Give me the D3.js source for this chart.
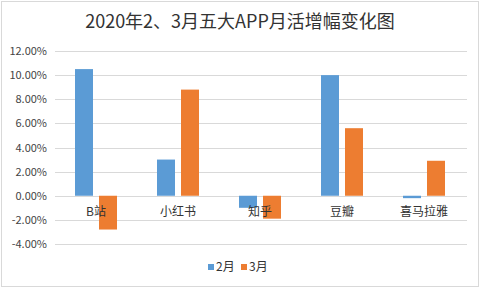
<!DOCTYPE html>
<html>
<head>
<meta charset="utf-8">
<script src="https://cdn.jsdelivr.net/npm/d3@7"></script>
<style>
  body { margin: 0; background: #fff; }
  svg { display: block; font-family: "Noto Sans CJK SC", "DejaVu Sans", sans-serif; }
</style>
</head>
<body>
<div id="chart"></div>
<script>
var categories = ['B站', '小红书', '知乎', '豆瓣', '喜马拉雅'];
var seriesNames = ['2月', '3月'];
var feb = [10.5, 3.0, -1.0, 10.0, -0.2];
var mar = [-2.8, 8.8, -1.9, 5.6, 2.9];
var yTicks = [-4, -2, 0, 2, 4, 6, 8, 10, 12];
var colors = ['#5b9bd5', '#ed7d31'];

var width = 481, height = 289;
var svg = d3.select('#chart').append('svg').attr('width', width).attr('height', height);

svg.append('rect').attr('x', 1.5).attr('y', 1.5).attr('width', width - 4).attr('height', height - 4)
  .attr('fill', '#fff').attr('stroke', '#d9d9d9');

svg.append('text').attr('x', 240).attr('y', 28).attr('text-anchor', 'middle')
  .attr('font-size', 18).attr('fill', '#333').text('2020年2、3月五大APP月活增幅变化图');

var x0 = d3.scaleBand().domain(categories).range([55, 465]);
var x1 = d3.scaleBand().domain(seriesNames).range([20, x0.bandwidth() - 20]).paddingInner(0.25);
var y = d3.scaleLinear().domain([-4, 12]).range([244, 51]);

var g = svg.append('g');
g.selectAll('line.grid').data(yTicks).enter().append('line').attr('class', 'grid')
  .attr('x1', 55).attr('x2', 467)
  .attr('y1', function(d) { return Math.round(y(d)) + 0.5; })
  .attr('y2', function(d) { return Math.round(y(d)) + 0.5; })
  .attr('stroke', '#d9d9d9');

g.selectAll('text.tick').data(yTicks).enter().append('text').attr('class', 'tick')
  .attr('x', 47).attr('y', function(d) { return y(d) + 4; })
  .attr('text-anchor', 'end').attr('font-size', 11).attr('fill', '#444')
  .text(function(d) { return d.toFixed(2) + '%'; });

var data = categories.map(function(c, i) { return { cat: c, vals: [feb[i], mar[i]] }; });
var groups = g.selectAll('g.cat').data(data).enter().append('g').attr('class', 'cat')
  .attr('transform', function(d) { return 'translate(' + x0(d.cat) + ',0)'; });
groups.selectAll('rect').data(function(d) { return d.vals.map(function(v, j) { return { s: seriesNames[j], v: v, j: j }; }); })
  .enter().append('rect')
  .attr('x', function(d) { return x1(d.s); })
  .attr('width', x1.bandwidth())
  .attr('y', function(d) { return Math.min(y(d.v), y(0)); })
  .attr('height', function(d) { return Math.abs(y(d.v) - y(0)); })
  .attr('fill', function(d) { return colors[d.j]; });

g.selectAll('text.cat').data(categories).enter().append('text').attr('class', 'cat')
  .attr('x', function(d) { return x0(d) + x0.bandwidth() / 2; }).attr('y', 216)
  .attr('text-anchor', 'middle').attr('font-size', 12).attr('fill', '#333')
  .text(function(d) { return d; });

var legend = svg.append('g').attr('transform', 'translate(208,268)');
seriesNames.forEach(function(s, i) {
  var lg = legend.append('g').attr('transform', 'translate(' + (i * 33) + ',0)');
  lg.append('rect').attr('x', 0).attr('y', -4).attr('width', 6).attr('height', 6).attr('fill', colors[i]);
  lg.append('text').attr('x', 8).attr('y', 3).attr('font-size', 12).attr('fill', '#333').text(s);
});
</script>
</body>
</html>
